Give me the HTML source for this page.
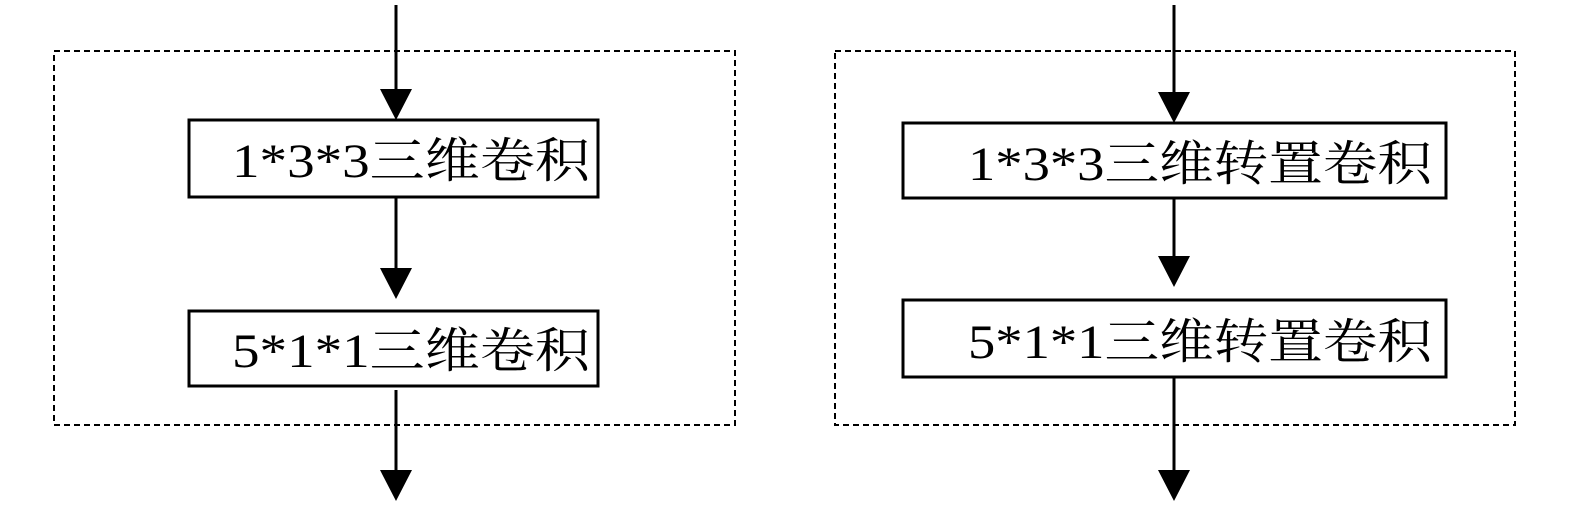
<!DOCTYPE html>
<html><head><meta charset="utf-8"><style>
html,body{margin:0;padding:0;background:#fff;}
svg{display:block;}
text{font-family:"Liberation Serif","Noto Serif CJK SC",serif;font-size:48px;fill:#000;}
</style></head><body>
<svg width="1575" height="508" viewBox="0 0 1575 508" xmlns="http://www.w3.org/2000/svg">
<g fill="none" stroke="#000">
<rect x="54" y="51" width="681" height="374" stroke-width="2" stroke-dasharray="6,4"/>
<rect x="835" y="51" width="680" height="374" stroke-width="2" stroke-dasharray="6,4"/>
<rect x="189" y="120" width="409" height="77" stroke-width="3"/>
<rect x="189" y="311" width="409" height="75" stroke-width="3"/>
<rect x="903" y="123" width="543" height="75" stroke-width="3"/>
<rect x="903" y="300" width="543" height="77" stroke-width="3"/>
<g stroke-width="3">
<line x1="396" y1="5" x2="396" y2="95"/>
<line x1="396" y1="197" x2="396" y2="272"/>
<line x1="396" y1="390" x2="396" y2="472"/>
<line x1="1174" y1="5" x2="1174" y2="98"/>
<line x1="1174" y1="198" x2="1174" y2="262"/>
<line x1="1174" y1="377" x2="1174" y2="472"/>
</g>
</g>
<g fill="#000">
<polygon points="380,89 412,89 396,120"/>
<polygon points="380,268 412,268 396,299"/>
<polygon points="380,470 412,470 396,501"/>
<polygon points="1158,92 1190,92 1174,123"/>
<polygon points="1158,256 1190,256 1174,287"/>
<polygon points="1158,470 1190,470 1174,501"/>
</g>
<text x="232" y="177" textLength="358" lengthAdjust="spacingAndGlyphs">1*3*3三维卷积</text>
<text x="232" y="367" textLength="358" lengthAdjust="spacingAndGlyphs">5*1*1三维卷积</text>
<text x="968" y="180" textLength="464" lengthAdjust="spacingAndGlyphs">1*3*3三维转置卷积</text>
<text x="968" y="358" textLength="464" lengthAdjust="spacingAndGlyphs">5*1*1三维转置卷积</text>
</svg>
</body></html>
